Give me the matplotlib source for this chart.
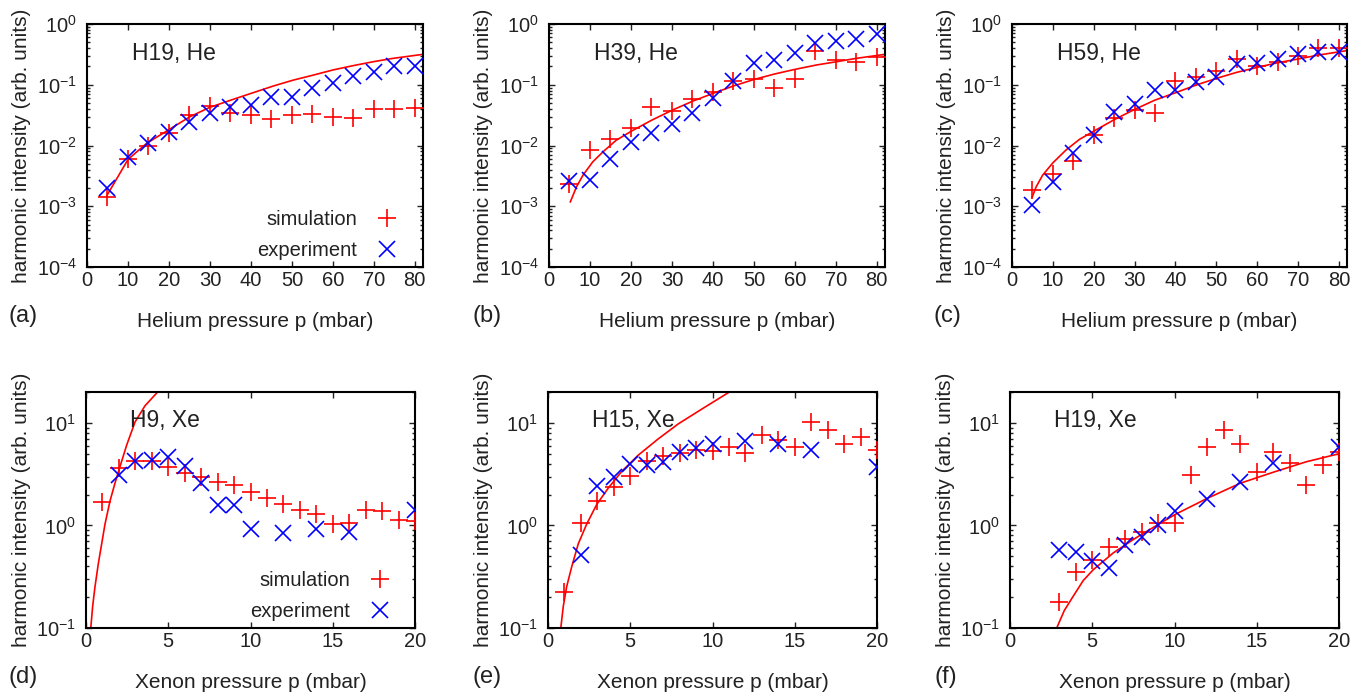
import matplotlib
matplotlib.use("Agg")
import matplotlib.pyplot as plt
import numpy as np

plt.rcParams['font.family'] = ['Liberation Sans', 'DejaVu Sans']
plt.rcParams['mathtext.default'] = 'regular'
plt.rcParams['text.color'] = '#222222'
plt.rcParams['axes.labelcolor'] = '#222222'
plt.rcParams['xtick.color'] = '#222222'
plt.rcParams['ytick.color'] = '#222222'

# ---------------- data ----------------
he_p = [5, 10, 15, 20, 25, 30, 35, 40, 45, 50, 55, 60, 65, 70, 75, 80]

a_sim = [1.43e-3, 5.9e-3, 9.9e-3, 0.0158, 0.0316, 0.0445, 0.0337, 0.0316, 0.0272,
         0.0316, 0.0324, 0.0297, 0.0286, 0.0397, 0.0397, 0.0407]
a_exp = [2.0e-3, 6.5e-3, 0.0111, 0.0168, 0.0246, 0.0337, 0.0434, 0.046, 0.0617,
         0.0617, 0.090, 0.105, 0.139, 0.164, 0.204, 0.204]
a_fit_x = [4.9, 10.0, 14.5, 19.8, 25.1, 29.9, 35.6, 40.5, 45.4, 50.3, 55.2, 60.0,
           64.9, 69.8, 74.7, 81.9]
a_fit_y = [1.52e-3, 5.88e-3, 0.0108, 0.0179, 0.0297, 0.0423, 0.0573, 0.0738, 0.095,
           0.119, 0.144, 0.175, 0.206, 0.239, 0.272, 0.316]

b_sim = [2.3e-3, 8.4e-3, 0.013, 0.0195, 0.0434, 0.0368, 0.0573, 0.0767, 0.115,
         0.124, 0.089, 0.124, 0.363, 0.255, 0.24, 0.29]
b_exp = [2.6e-3, 2.7e-3, 5.9e-3, 0.0115, 0.0162, 0.0222, 0.0345, 0.0595, 0.115,
         0.225, 0.255, 0.328, 0.48, 0.53, 0.56, 0.684]
b_fit_x = [5.2, 6.7, 8.3, 10.7, 13.2, 16.4, 20.1, 25.1, 30.1, 35.1, 40.0, 44.9,
           50.0, 55.0, 60.0, 65.2, 70.1, 75.0, 81.9]
b_fit_y = [1.18e-3, 2.08e-3, 3.25e-3, 5.4e-3, 7.9e-3, 0.0122, 0.0172, 0.0262,
           0.0382, 0.0538, 0.072, 0.095, 0.122, 0.15, 0.179, 0.211, 0.239, 0.272, 0.316]

c_sim = [1.84e-3, 3.45e-3, 5.5e-3, 0.0148, 0.0286, 0.038, 0.0345, 0.115, 0.135,
         0.168, 0.262, 0.206, 0.24, 0.297, 0.407, 0.397]
c_exp = [1.04e-3, 2.5e-3, 7.5e-3, 0.0148, 0.036, 0.048, 0.082, 0.082, 0.112,
         0.132, 0.216, 0.23, 0.265, 0.316, 0.35, 0.35]
c_fit_x = [4.9, 5.9, 7.5, 10.0, 13.2, 16.5, 20.0, 25.1, 30.0, 35.0, 40.0, 45.1,
           50.0, 55.0, 60.0, 65.1, 70.0, 75.0, 81.8]
c_fit_y = [1.39e-3, 2.08e-3, 3.25e-3, 5.18e-3, 8.4e-3, 0.0126, 0.0172, 0.0268,
           0.0392, 0.0559, 0.0738, 0.099, 0.127, 0.16, 0.193, 0.231, 0.265, 0.308, 0.363]

xe_sim_p_d = [1, 2, 3, 4, 5, 6, 7, 8, 9, 10, 11, 12, 13, 14, 15, 16, 17, 18, 19, 20]
xe_exp_p = [2, 3, 4, 5, 6, 7, 8, 9, 10, 12, 14, 16, 20]

d_sim = [1.68, 3.6, 4.28, 4.28, 3.74, 3.22, 2.99, 2.67, 2.48, 2.14, 1.84, 1.61,
         1.42, 1.29, 1.03, 1.05, 1.42, 1.37, 1.13, 1.11]
d_exp = [3.1, 4.28, 4.34, 4.68, 3.8, 2.62, 1.59, 1.59, 0.93, 0.84, 0.93, 0.86, 1.42]
d_fit_x = [0.30, 0.405, 0.547, 0.75, 0.953, 1.155, 1.459, 1.763, 2.067, 2.47,
           2.98, 3.59, 4.5]
d_fit_y = [0.104, 0.163, 0.253, 0.425, 0.662, 1.03, 1.73, 2.59, 3.75, 6.05,
           10.2, 14.7, 21.2]

e_sim = [0.225, 1.05, 1.75, 2.39, 3.04, 4.25, 4.75, 5.04, 5.43, 5.35, 5.76, 5.11,
         7.6, 6.79, 5.76, 10.2, 8.6, 6.16, 7.3, 5.43]
e_exp = [0.51, 2.44, 2.99, 3.97, 3.88, 4.18, 5.23, 5.63, 6.21, 6.64, 6.16, 5.43, 3.74]
e_fit_x = [0.79, 0.93, 1.135, 1.44, 1.84, 2.35, 2.96, 3.67, 4.48, 5.49, 6.71,
           7.92, 9.34, 10.96]
e_fit_y = [0.104, 0.163, 0.253, 0.395, 0.662, 1.03, 1.6, 2.32, 3.36, 4.85, 7.0,
           9.78, 13.6, 19.7]

xe_sim_p_f = [3, 4, 5, 6, 7, 8, 9, 10, 11, 12, 13, 14, 15, 16, 17, 18, 19, 20]
xe_exp_p_f = [3, 4, 5, 6, 7, 8, 9, 10, 12, 14, 16, 20]
f_sim = [0.18, 0.35, 0.46, 0.62, 0.74, 0.86, 1.05, 1.05, 3.1, 5.85, 8.6, 6.2,
         3.34, 5.15, 4.03, 2.48, 3.88, 5.23]
f_exp = [0.58, 0.55, 0.45, 0.385, 0.64, 0.78, 1.01, 1.39, 1.81, 2.67, 4.09, 5.76]
f_fit_x = [2.84, 3.3, 3.85, 4.45, 5.06, 6.28, 7.5, 9.0, 10.0, 12.0, 14.0, 16.0,
           18.0, 20.0]
f_fit_y = [0.1, 0.148, 0.205, 0.29, 0.37, 0.54, 0.73, 1.02, 1.27, 1.84, 2.58, 3.3,
           4.17, 5.0]

titles = ["H19, He", "H39, He", "H59, He", "H9, Xe", "H15, Xe", "H19, Xe"]
letters = ["(a)", "(b)", "(c)", "(d)", "(e)", "(f)"]
he_xticks = [0, 10, 20, 30, 40, 50, 60, 70, 80]
xe_xticks = [0, 5, 10, 15, 20]

# ---------------- figure ----------------
W, H = 1371, 695
fig = plt.figure(figsize=(W / 100, H / 100), dpi=100)

def rect(l, r, t, b):
    return [l / W, 1 - b / H, (r - l) / W, (b - t) / H]

rects = [rect(87, 423, 24, 267), rect(549, 885, 24, 267), rect(1012, 1347, 24, 267),
         rect(86, 415, 392, 628), rect(548, 877, 392, 628), rect(1010, 1339, 392, 628)]

panels = [
    (he_p, a_sim, he_p, a_exp, a_fit_x, a_fit_y),
    (he_p, b_sim, he_p, b_exp, b_fit_x, b_fit_y),
    (he_p, c_sim, he_p, c_exp, c_fit_x, c_fit_y),
    (xe_sim_p_d, d_sim, xe_exp_p, d_exp, d_fit_x, d_fit_y),
    (xe_sim_p_d, e_sim, xe_exp_p, e_exp, e_fit_x, e_fit_y),
    (xe_sim_p_f, f_sim, xe_exp_p_f, f_exp, f_fit_x, f_fit_y),
]

letter_pos = [(8, 316), (472, 316), (933, 316), (9, 677), (472, 677), (935, 677)]

RED = '#ff0000'
BLUE = '#0000ff'

for i, (r, pdata) in enumerate(zip(rects, panels)):
    ax = fig.add_axes(r)
    sx, sy, ex, ey, fx, fy = pdata
    ax.plot(fx, fy, color=RED, lw=1.2, zorder=2)
    ax.plot(sx, sy, linestyle='none', marker='+', ms=12.5, mew=1.2, color=RED,
            label='simulation', zorder=3)
    ax.plot(ex, ey, linestyle='none', marker='x', ms=11.5, mew=1.2, color=BLUE,
            label='experiment', zorder=3)
    ax.set_yscale('log')
    if i < 3:
        ax.set_xlim(0, 82)
        ax.set_ylim(1e-4, 1)
        ax.set_xticks(he_xticks)
        ax.set_xlabel('Helium pressure p (mbar)', fontsize=15, labelpad=16)
    else:
        ax.set_xlim(0, 20)
        ax.set_ylim(0.1, 20)
        ax.set_xticks(xe_xticks)
        ax.set_xlabel('Xenon pressure p (mbar)', fontsize=15, labelpad=16)
    ax.set_ylabel('harmonic intensity (arb. units)', fontsize=15, labelpad=4)
    ax.tick_params(which='both', direction='in', top=True, right=True,
                   labelsize=14.5, width=1.0)
    ax.tick_params(which='major', length=4, pad=3)
    ax.tick_params(axis='y', which='major', pad=7)
    ax.tick_params(which='minor', length=2)
    ax.tick_params(axis='x', which='minor', bottom=False, top=False)
    for s in ax.spines.values():
        s.set_linewidth(1.5)
    ax.text(0.133, 0.88, titles[i], transform=ax.transAxes, ha='left', va='center',
            fontsize=16.5)
    if i in (0, 3):
        ax.legend(loc='lower right', bbox_to_anchor=(0.93, 0.03), frameon=False,
                  markerfirst=False, fontsize=14.5, handlelength=1.2,
                  handletextpad=0.9, labelspacing=0.58, borderaxespad=0,
                  borderpad=0)
    lx, ly = letter_pos[i]
    fig.text(lx / W, 1 - ly / H, letters[i], ha='left', va='center', fontsize=17)

fig.savefig('out.png', dpi=100)
